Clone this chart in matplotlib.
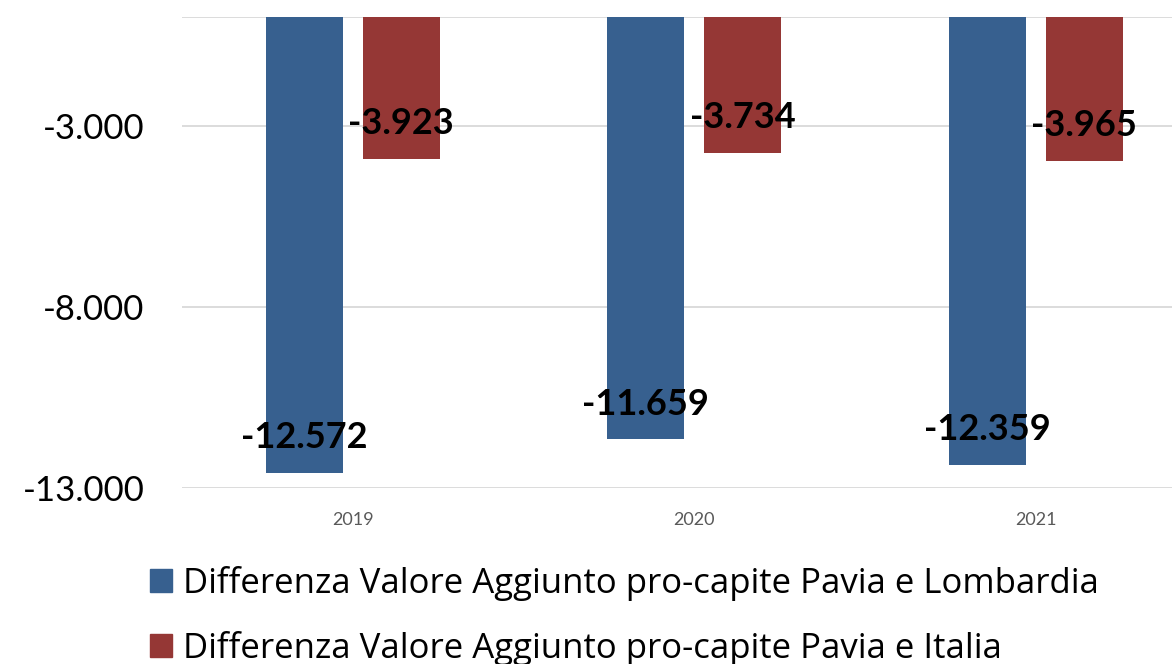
import numpy as np
import matplotlib.pyplot as plt
from matplotlib.patches import Patch

# dati
anni = ["2019", "2020", "2021"]
diff_lombardia = [-12572, -11659, -12359]
diff_italia = [-3923, -3734, -3965]
lbl_lombardia = "Differenza Valore Aggiunto pro-capite Pavia e Lombardia"
lbl_italia = "Differenza Valore Aggiunto pro-capite Pavia e Italia"

blu = "#37608f"
rosso = "#953735"

plt.rcParams["font.family"] = ["Lato", "DejaVu Sans"]

fig = plt.figure(figsize=(11.72, 6.64), dpi=100)
ax = fig.add_axes([182 / 1172, 1 - 488 / 664, 1024.5 / 1172, (488 - 17.4) / 664])

x = np.arange(len(anni))
w = 0.2255
off = 0.142

b1 = ax.bar(x - off, diff_lombardia, w, color=blu, zorder=3)
b2 = ax.bar(x + off, diff_italia, w, color=rosso, zorder=3)

# etichette dati (dentro, vicino alla fine della barra)
for bars, vals in [(b1, diff_lombardia), (b2, diff_italia)]:
    for rect, v in zip(bars, vals):
        testo = f"{v:,}".replace(",", ".")
        ax.annotate(testo, (rect.get_x() + rect.get_width() / 2, v),
                    xytext=(0, 25.5), textcoords="offset points",
                    ha="center", va="center", fontsize=26, fontweight="bold",
                    color="black", zorder=5)

ax.set_xlim(-0.5, 2.5)
ax.set_ylim(-13000, 0)
ax.set_yticks([-13000, -8000, -3000])
ax.set_yticklabels(["-13.000", "-8.000", "-3.000"])
ax.set_xticks(x)
ax.set_xticklabels(anni)

ax.tick_params(axis="y", length=0, labelsize=25, pad=27, labelcolor="black")
ax.tick_params(axis="x", length=0, labelsize=13, pad=17, labelcolor="#595959")

ax.grid(axis="y", color="#d9d9d9", linewidth=1.3, zorder=0)
ax.axhline(0, color="#d9d9d9", linewidth=1.3, zorder=1)
for s in ax.spines.values():
    s.set_visible(False)

handles = [Patch(color=blu, label=lbl_lombardia), Patch(color=rosso, label=lbl_italia)]
fig.legend(handles=handles, loc="upper left", bbox_to_anchor=(150 / 1172, 1 - 566 / 664),
           frameon=False, prop={"family": "Open Sans", "size": 25},
           handlelength=0.63, handleheight=0.63,
           handletextpad=0.32, labelspacing=0.86, borderaxespad=0, borderpad=0)

fig.savefig("out.png", dpi=100)
